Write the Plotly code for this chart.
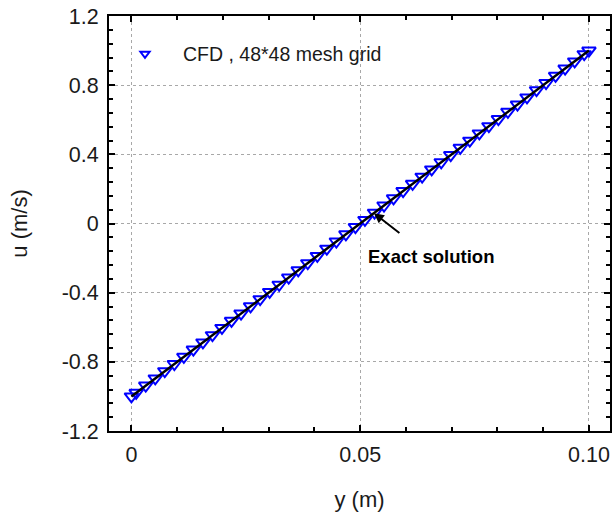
import plotly.graph_objects as go

# CFD results (48*48 mesh): boundary nodes + cell centres
y_cfd = [0.0, 0.00104, 0.00313, 0.00521, 0.00729, 0.00938, 0.01146, 0.01354, 0.01563, 0.01771,
         0.01979, 0.02188, 0.02396, 0.02604, 0.02813, 0.03021, 0.03229, 0.03438, 0.03646, 0.03854,
         0.04063, 0.04271, 0.04479, 0.04688, 0.04896, 0.05104, 0.05313, 0.05521, 0.05729, 0.05938,
         0.06146, 0.06354, 0.06563, 0.06771, 0.06979, 0.07188, 0.07396, 0.07604, 0.07813, 0.08021,
         0.08229, 0.08438, 0.08646, 0.08854, 0.09063, 0.09271, 0.09479, 0.09688, 0.09896, 0.1]
u_cfd = [-1.0, -0.97917, -0.9375, -0.89583, -0.85417, -0.8125, -0.77083, -0.72917, -0.6875, -0.64583,
         -0.60417, -0.5625, -0.52083, -0.47917, -0.4375, -0.39583, -0.35417, -0.3125, -0.27083, -0.22917,
         -0.1875, -0.14583, -0.10417, -0.0625, -0.02083, 0.02083, 0.0625, 0.10417, 0.14583, 0.1875,
         0.22917, 0.27083, 0.3125, 0.35417, 0.39583, 0.4375, 0.47917, 0.52083, 0.5625, 0.60417,
         0.64583, 0.6875, 0.72917, 0.77083, 0.8125, 0.85417, 0.89583, 0.9375, 0.97917, 1.0]

# Exact solution
y_exact = [0.0, 0.1]
u_exact = [-1.0, 1.0]

x_tickvals = [0, 0.05, 0.1]
x_ticktext = ["0", "0.05", "0.10"]
y_tickvals = [-1.2, -0.8, -0.4, 0, 0.4, 0.8, 1.2]
y_ticktext = ["-1.2", "-0.8", "-0.4", "0", "0.4", "0.8", "1.2"]

FONT = "Liberation Sans, Arial, sans-serif"
TXT = "#1a1a1a"
BLUE = "#0000ff"

fig = go.Figure()
fig.add_trace(go.Scatter(
    x=y_cfd, y=u_cfd, mode="markers", name="CFD , 48*48 mesh grid", showlegend=False,
    marker=dict(symbol="triangle-down-open", size=12, color=BLUE,
                line=dict(width=2, color=BLUE)),
))
# legend entry (smaller symbol as in the original legend)
fig.add_trace(go.Scatter(
    x=[None], y=[None], mode="markers", name="CFD , 48*48 mesh grid",
    marker=dict(symbol="triangle-down-open", size=8, color=BLUE,
                line=dict(width=2, color=BLUE)),
))
fig.add_trace(go.Scatter(
    x=y_exact, y=u_exact, mode="lines", name="Exact solution", showlegend=False,
    line=dict(color="black", width=2.5),
))

axis_common = dict(
    showline=True, linecolor="black", linewidth=2, mirror="allticks",
    ticks="inside", ticklen=6, tickwidth=2, tickcolor="black",
    showgrid=True, gridcolor="#a8a8a8", gridwidth=1, griddash="dot",
    zeroline=False,
    tickfont=dict(family=FONT, size=21.5, color=TXT),
)

fig.update_xaxes(
    range=[-0.0049, 0.1046], tickvals=x_tickvals, ticktext=x_ticktext,
    minor=dict(dtick=0.01, tick0=0, ticks="inside", ticklen=4, tickwidth=2,
               tickcolor="black", showgrid=False),
    title=dict(text="y (m)", font=dict(family=FONT, size=22, color=TXT), standoff=26),
    ticklabelstandoff=3,
    **axis_common,
)
fig.update_yaxes(
    range=[-1.2, 1.2], tickvals=y_tickvals, ticktext=y_ticktext,
    minor=dict(dtick=0.08, tick0=0, ticks="inside", ticklen=4, tickwidth=2,
               tickcolor="black", showgrid=False),
    title=dict(text="u (m/s)", font=dict(family=FONT, size=22, color=TXT), standoff=28),
    ticklabelstandoff=4,
    **axis_common,
)

# arrow pointing at the exact solution line
fig.add_annotation(x=0.053, y=0.06, xref="x", yref="y", text="", showarrow=True,
                   ax=27, ay=21, arrowhead=2, arrowsize=1, arrowwidth=2, arrowcolor="black")
fig.add_annotation(x=0.0655, y=-0.19, xref="x", yref="y", text="<b>Exact solution</b>",
                   showarrow=False, font=dict(family=FONT, size=18.5, color="black"))

fig.update_layout(
    width=613, height=513,
    margin=dict(l=109, r=1, t=16, b=82),
    plot_bgcolor="white", paper_bgcolor="white",
    font=dict(family=FONT, size=18, color=TXT),
    legend=dict(x=-0.004, y=0.955, xanchor="left", yanchor="top",
                bgcolor="rgba(0,0,0,0)", font=dict(family=FONT, size=19.5, color=TXT),
                itemwidth=66),
)

fig.write_html("out.html")
